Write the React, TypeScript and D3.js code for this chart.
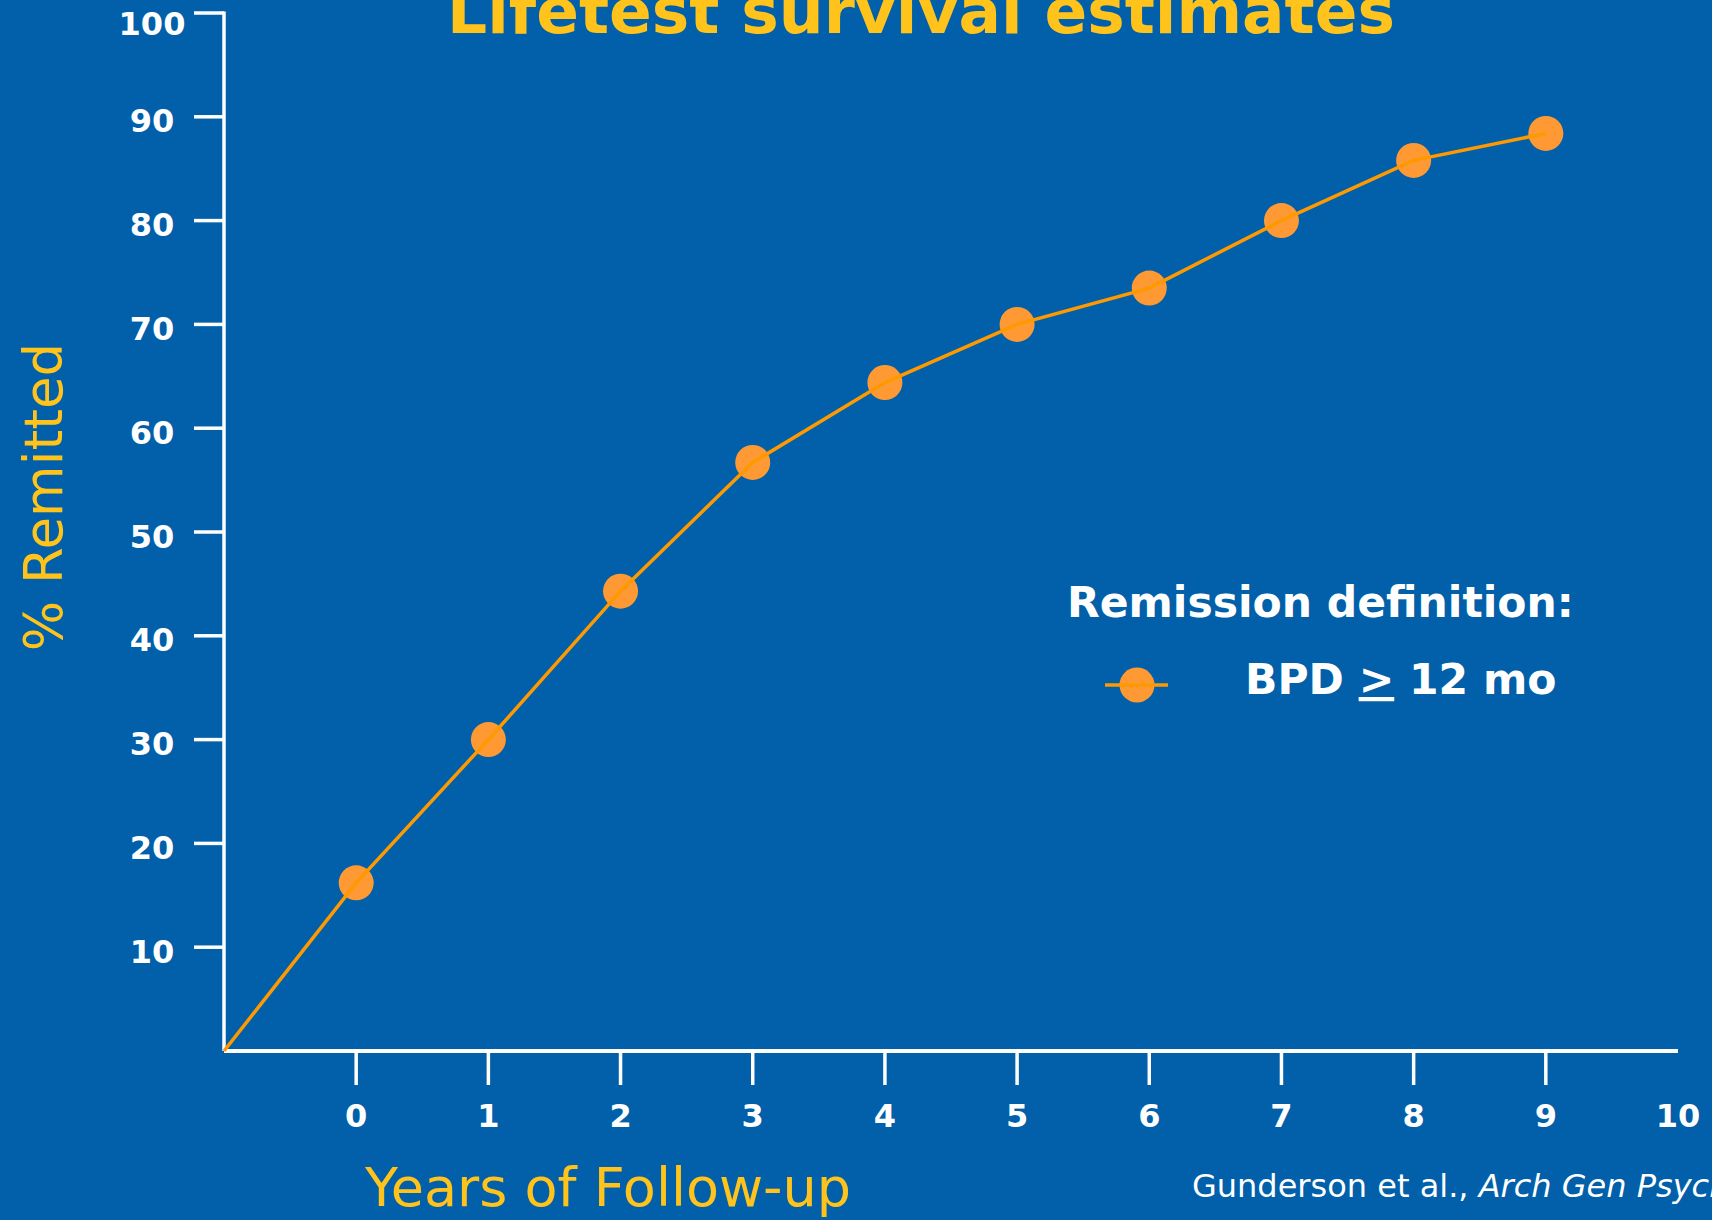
import React from "react";
import * as d3 from "d3";

// ---- data ----
const years: number[] = [0, 1, 2, 3, 4, 5, 6, 7, 8, 9];
const pctRemitted: number[] = [16.2, 30, 44.3, 56.7, 64.4, 70, 73.5, 80, 85.8, 88.4];
const lineOrigin = { year: -1, pct: 0 };
const xTickValues: number[] = [0, 1, 2, 3, 4, 5, 6, 7, 8, 9];
const xLabelValues: number[] = [0, 1, 2, 3, 4, 5, 6, 7, 8, 9, 10];
const yTickValues: number[] = [10, 20, 30, 40, 50, 60, 70, 80, 90, 100];
const titleText = "Lifetest survival estimates";
const yTitle = "% Remitted";
const xTitle = "Years of Follow-up";
const legendTitle = "Remission definition:";
const seriesLabel = ["BPD ", ">", " 12 mo"];
const citation = ["Gunderson et al., ", "Arch Gen Psychiatry"];

const W = 1712;
const H = 1220;
const BG = "#0160A9";
const YELLOW = "#FFC31B";
const ORANGE_FILL = "#FF9933";
const ORANGE_LINE = "#FF9900";
const FONT = "'DejaVu Sans', Verdana, sans-serif";

export default function App() {
  const x = d3.scaleLinear().domain([-1, 10]).range([224, 1678]);
  const y = d3.scaleLinear().domain([0, 100]).range([1051, 13]);

  const pts = years.map((yr, i) => ({ year: yr, pct: pctRemitted[i] }));
  const line = d3
    .line<{ year: number; pct: number }>()
    .x((d) => x(d.year))
    .y((d) => y(d.pct));
  const pathD = line([lineOrigin, ...pts]) || "";

  const x0 = x(-1);
  const y0 = y(0);

  return (
    <svg
      width={W}
      height={H}
      viewBox={`0 0 ${W} ${H}`}
      style={{ position: "absolute", left: 0, top: 0, display: "block", overflow: "hidden" }}
      fontFamily={FONT}
    >
      <rect x={0} y={0} width={W} height={H} fill={BG} />

      {/* title (cut at top as in reference) */}
      <text x={921} y={33} textAnchor="middle" fill={YELLOW} fontWeight="bold" fontSize={63}>
        {titleText}
      </text>

      {/* y axis */}
      <line x1={x0} x2={x0} y1={y(100) - 1.5} y2={y0} stroke="#fff" strokeWidth={3.5} />
      {yTickValues.map((v) => (
        <g key={"yt" + v}>
          <line x1={x0 - 30} x2={x0} y1={y(v)} y2={y(v)} stroke="#fff" strokeWidth={3.5} />
          <text
            x={152}
            y={y(v) + (v === 100 ? 10 : 4)}
            dy="0.36em"
            textAnchor="middle"
            fill="#fff"
            fontWeight="bold"
            fontSize={32}
          >
            {v}
          </text>
        </g>
      ))}

      {/* x axis */}
      <line x1={x0} x2={x(10)} y1={y0} y2={y0} stroke="#fff" strokeWidth={4} />
      {xTickValues.map((v) => (
        <line key={"xt" + v} x1={x(v)} x2={x(v)} y1={y0} y2={y0 + 34} stroke="#fff" strokeWidth={3.5} />
      ))}
      {xLabelValues.map((v) => (
        <text
          key={"xl" + v}
          x={x(v)}
          y={1127}
          textAnchor="middle"
          fill="#fff"
          fontWeight="bold"
          fontSize={32}
        >
          {v}
        </text>
      ))}

      {/* axis titles */}
      <text
        transform={`translate(62, 497) rotate(-90)`}
        textAnchor="middle"
        fill={YELLOW}
        fontSize={53}
      >
        {yTitle}
      </text>
      <text x={608} y={1206} textAnchor="middle" fill={YELLOW} fontSize={54}>
        {xTitle}
      </text>

      {/* markers then line on top */}
      {pts.map((d) => (
        <circle key={"p" + d.year} cx={x(d.year)} cy={y(d.pct)} r={17.5} fill={ORANGE_FILL} />
      ))}
      <path d={pathD} fill="none" stroke={ORANGE_LINE} strokeWidth={3.5} />

      {/* legend */}
      <text x={1067} y={617} fill="#fff" fontWeight="bold" fontSize={42.5}>
        {legendTitle}
      </text>
      <circle cx={1137} cy={685} r={17.5} fill={ORANGE_FILL} />
      <line x1={1105} x2={1168} y1={685} y2={685} stroke={ORANGE_LINE} strokeWidth={3.5} />
      <text x={1245} y={694} fill="#fff" fontWeight="bold" fontSize={42.5}>
        <tspan>{seriesLabel[0]}</tspan>
        <tspan textDecoration="underline" style={{ textDecoration: "underline" }}>
          {seriesLabel[1]}
        </tspan>
        <tspan>{seriesLabel[2]}</tspan>
      </text>

      {/* citation */}
      <text x={1192} y={1197} fill="#fff" fontSize={32}>
        <tspan>{citation[0]}</tspan>
        <tspan fontStyle="italic">{citation[1]}</tspan>
      </text>
    </svg>
  );
}
